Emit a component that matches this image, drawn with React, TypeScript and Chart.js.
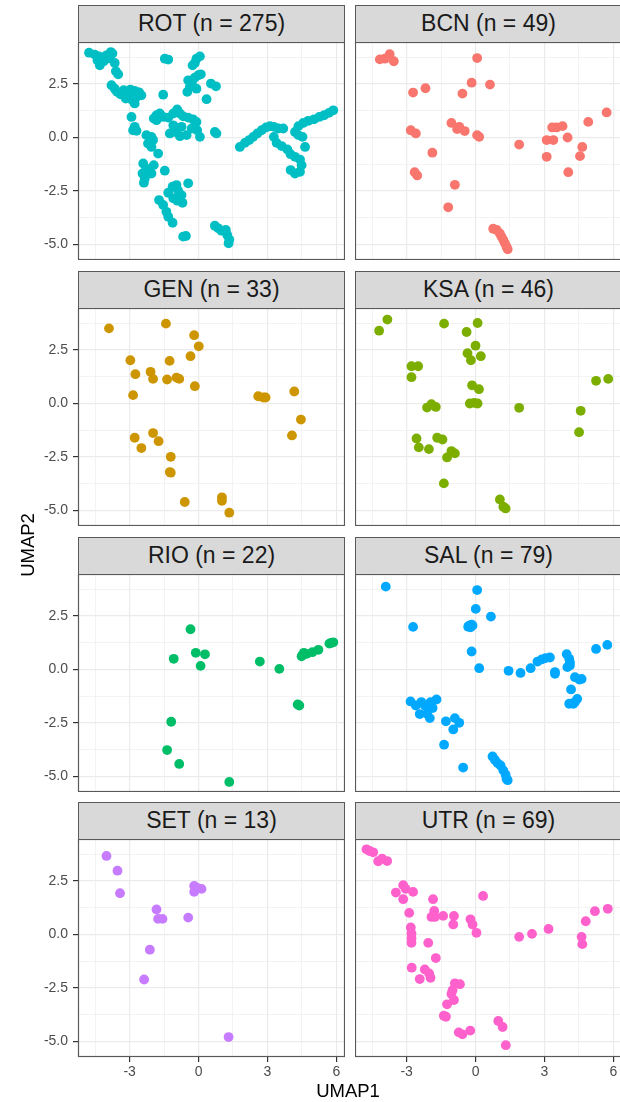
import React, { useEffect, useRef } from "react";
import { Chart, registerables } from "chart.js";

Chart.register(...registerables);

// ---------------- data (UMAP1, UMAP2) per site ----------------
const ROT: [number, number][] = [
  [-4.77, 3.96], [-4.52, 3.87], [-4.33, 3.79], [-4.16, 3.73], [-4.01, 3.84], [-3.82, 3.99], [-3.75, 3.92],
  [-4.30, 3.37], [-4.13, 3.56], [-3.65, 3.48], [-3.60, 3.09], [-3.50, 2.95], [-4.40, 3.60], [-3.90, 3.70],
  [-3.79, 2.44], [-3.65, 2.28], [-3.55, 2.13], [-3.40, 2.02], [-3.26, 2.21], [-3.14, 2.05], [-3.02, 1.90],
  [-2.88, 1.74], [-2.78, 1.59], [-2.97, 2.24], [-2.78, 2.18], [-2.59, 2.11], [-2.49, 1.97], [-2.70, 1.90],
  [-3.17, 1.82], [-2.92, 0.96], [-2.78, 0.50], [-2.70, 0.31], [-2.85, 0.34],
  [-1.54, 2.00], [-1.47, 3.68], [-1.32, 3.64], [-0.09, 3.68], [0.06, 3.79], [-0.16, 3.48], [-0.26, 3.37],
  [-0.49, 2.13], [-0.38, 2.36], [-0.28, 2.60], [-0.16, 2.80], [-0.01, 2.91], [0.10, 2.95], [-0.45, 2.67],
  [-0.09, 2.28], [0.54, 2.52], [0.76, 2.39], [0.35, 1.79],
  [-1.95, 0.89], [-1.83, 1.04], [-1.69, 1.12], [-1.54, 0.96], [-1.32, 0.93], [-1.10, 1.12], [-0.93, 1.31],
  [-0.81, 1.12], [-0.67, 0.99], [-0.45, 0.93], [-0.23, 0.84], [-0.09, 0.73], [-1.10, 0.57], [-0.96, 0.42],
  [-0.74, 0.50], [-1.25, 0.19], [-1.03, 0.26], [-0.81, 0.06], [-0.52, 0.11], [-0.30, 0.42], [-0.06, 0.34],
  [0.06, 0.03], [-1.83, 0.81], [0.71, 0.26], [0.78, 0.19],
  [-2.27, 0.11], [-2.05, 0.03], [-2.20, -0.28], [-1.98, -0.12], [-2.05, -0.44], [-1.76, -0.75],
  [-2.41, -1.21], [-2.27, -1.45], [-2.44, -1.68], [-2.34, -1.91], [-2.05, -1.68], [-1.95, -1.29],
  [-2.38, -2.11], [-1.47, -1.55],
  [-1.32, -2.58], [-1.13, -2.30], [-0.96, -2.22], [-0.89, -2.49], [-0.74, -2.69], [-1.10, -2.84],
  [-0.92, -2.95], [-0.70, -3.05], [-0.45, -2.14], [-1.72, -2.92], [-1.54, -3.15], [-1.40, -3.47],
  [-1.32, -3.70], [-1.13, -3.98], [-0.67, -4.63], [-0.55, -4.60],
  [0.71, -4.12], [0.86, -4.24], [1.00, -4.35], [1.19, -4.32], [1.25, -4.55], [1.34, -4.76], [1.31, -4.94],
  [1.80, -0.44], [2.02, -0.25], [2.21, -0.12], [2.38, 0.03], [2.56, 0.19], [2.75, 0.34], [2.94, 0.47],
  [3.11, 0.53], [3.28, 0.50], [3.47, 0.42], [3.69, 0.42],
  [3.28, 0.03], [3.40, -0.25], [3.62, -0.40], [3.87, -0.56], [4.01, -0.78], [4.20, -0.90], [4.42, -1.03],
  [4.49, -1.29], [4.01, -1.52], [4.20, -1.68], [4.42, -1.60], [4.64, -0.44],
  [4.20, 0.26], [4.35, 0.53], [4.56, 0.68], [4.78, 0.78], [5.03, 0.85], [5.26, 0.96], [5.47, 1.04],
  [5.68, 1.15], [5.87, 1.27], [4.35, 0.11], [4.53, 0.03],
];

const BCN: [number, number][] = [
  [-4.17, 3.65], [-3.95, 3.68], [-3.74, 3.89], [-3.56, 3.56], [0.07, 3.71], [-2.72, 2.10], [-2.18, 2.30],
  [-0.57, 2.05], [-0.17, 2.56], [0.63, 2.47], [-2.82, 0.34], [-2.60, 0.19], [-1.05, 0.68], [-0.80, 0.39],
  [-0.71, 0.50], [-0.47, 0.30], [0.07, 0.11], [0.16, 0.03], [-1.88, -0.71], [-2.65, -1.62], [-2.54, -1.77],
  [-0.90, -2.21], [-1.19, -3.26], [0.77, -4.26], [0.92, -4.32], [1.06, -4.48], [1.13, -4.63], [1.21, -4.79],
  [1.28, -4.94], [1.35, -5.10], [1.40, -5.22], [1.90, -0.33], [3.10, -0.12], [3.39, -0.12], [3.34, 0.47],
  [3.53, 0.47], [3.79, 0.53], [4.01, 0.0], [3.10, -0.90], [4.04, -1.62], [4.55, -0.87], [4.65, -0.44],
  [4.91, 0.73], [5.71, 1.17],
];

const GEN: [number, number][] = [
  [-3.90, 3.51], [-1.42, 3.73], [-0.19, 3.19], [0.01, 2.67], [-0.35, 2.21], [-2.97, 2.02], [-1.26, 1.99],
  [-2.75, 1.37], [-2.09, 1.48], [-1.98, 1.15], [-1.37, 1.12], [-0.96, 1.21], [-0.84, 1.15], [-0.16, 0.81],
  [-2.85, 0.39], [2.60, 0.34], [2.82, 0.28], [2.92, 0.28], [4.17, 0.56], [4.46, -0.75], [4.07, -1.49],
  [-2.78, -1.60], [-1.98, -1.38], [-1.74, -1.76], [-2.49, -2.08], [-1.21, -2.49], [-1.25, -3.20],
  [-1.21, -3.23], [-0.60, -4.60], [1.02, -4.38], [1.02, -4.54], [1.34, -5.10],
];

const KSA: [number, number][] = [
  [-3.84, 3.92], [-4.20, 3.40], [-1.37, 3.73], [0.09, 3.76], [-0.39, 3.34], [0.0, 2.70], [-0.35, 2.35],
  [0.23, 2.21], [-0.20, 2.02], [-2.79, 1.74], [-2.50, 1.74], [-2.79, 1.23], [-0.15, 0.85], [0.15, 0.67],
  [-0.25, 0.0], [-0.06, 0.03], [0.09, 0.0], [-2.11, -0.19], [-1.92, -0.03], [-1.73, -0.16], [1.90, -0.20],
  [5.25, 1.06], [5.78, 1.15], [4.58, -0.34], [4.51, -1.34], [-2.57, -1.63], [-2.47, -2.05], [-2.03, -2.13],
  [-1.67, -1.60], [-1.44, -1.68], [-1.24, -2.52], [-1.05, -2.22], [-0.90, -2.33], [-1.38, -3.73],
  [1.06, -4.48], [1.31, -4.90], [1.21, -4.82],
];

const RIO: [number, number][] = [
  [-0.35, 1.88], [-1.08, 0.50], [-0.12, 0.78], [0.28, 0.71], [0.09, 0.17], [2.67, 0.37], [3.52, 0.03],
  [4.53, 0.68], [4.59, 0.78], [4.71, 0.73], [4.96, 0.81], [5.22, 0.92], [5.70, 1.21], [5.87, 1.27],
  [5.77, 1.24], [4.49, 0.62], [4.32, -1.63], [4.39, -1.68], [-1.19, -2.44], [-1.37, -3.76], [-0.84, -4.41],
  [1.34, -5.25],
];

const SAL: [number, number][] = [
  [-3.91, 3.87], [-2.72, 1.99], [0.07, 3.71], [0.01, 2.83], [0.67, 2.47], [-0.28, 2.05], [-0.17, 2.10],
  [-0.22, 1.97], [-0.32, 2.00], [-0.13, 2.05], [-0.17, 0.84], [0.16, 0.06], [1.44, -0.06], [1.96, -0.16],
  [2.40, 0.06], [2.70, 0.37], [2.88, 0.47], [3.05, 0.53], [3.24, 0.56], [3.46, -0.12], [3.46, -0.20],
  [3.97, 0.72], [4.08, 0.50], [4.11, 0.34], [4.00, 0.11], [4.11, 0.19], [4.33, -0.36], [4.52, -0.47],
  [4.62, -0.44], [4.16, -0.93], [4.08, -1.60], [4.26, -1.60], [4.43, -1.37], [4.33, -1.52], [5.25, 0.96],
  [5.74, 1.15], [-2.83, -1.49], [-2.60, -1.68], [-2.43, -2.08], [-2.21, -1.68], [-2.11, -2.07],
  [-1.99, -2.27], [-1.96, -1.53], [-1.87, -1.80], [-1.70, -1.40], [-2.36, -1.52], [-1.29, -2.42],
  [-0.90, -2.27], [-0.71, -2.49], [-0.97, -2.80], [-1.37, -3.51], [-0.54, -4.58], [0.74, -4.06],
  [0.84, -4.21], [0.96, -4.37], [1.09, -4.48], [1.21, -4.71], [1.31, -4.91], [1.35, -5.10], [1.40, -5.17],
];

const SET: [number, number][] = [
  [-4.01, 3.67], [-3.53, 2.98], [-3.42, 1.93], [-0.19, 2.27], [-0.19, 1.99], [-0.06, 2.18], [0.13, 2.13],
  [-1.83, 1.17], [-1.76, 0.73], [-1.57, 0.73], [-0.45, 0.79], [-2.12, -0.71], [-2.37, -2.10], [1.31, -4.79],
];

const UTR: [number, number][] = [
  [-4.75, 3.98], [-4.61, 3.90], [-4.46, 3.84], [-4.24, 3.42], [-4.07, 3.54], [-3.85, 3.43], [-3.47, 1.96],
  [-3.15, 2.30], [-3.04, 2.13], [-2.72, 1.99], [-3.15, 1.65], [-1.85, 1.65], [0.33, 1.80], [-2.89, 1.01],
  [-1.80, 1.10], [-1.92, 0.82], [-1.77, 0.82], [-1.41, 0.87], [-0.94, 0.87], [-0.97, 0.47], [-0.22, 0.71],
  [-0.13, 0.47], [0.04, 0.08], [-2.82, 0.33], [-2.79, 0.05], [-2.79, -0.19], [-2.79, -0.39], [-2.06, -0.39],
  [-1.73, -1.10], [-2.78, -1.55], [-2.21, -1.63], [-2.02, -1.82], [-1.96, -2.02], [-2.43, -2.08],
  [-0.90, -2.28], [-0.68, -2.32], [-1.00, -2.60], [-1.05, -2.78], [-0.94, -3.06], [-1.24, -3.26],
  [-1.38, -3.79], [-1.29, -3.84], [-0.73, -4.57], [-0.57, -4.66], [-0.23, -4.49], [0.99, -4.04],
  [1.18, -4.32], [1.32, -5.17], [1.90, -0.11], [2.46, 0.03], [3.18, 0.26], [4.62, -0.11], [4.65, -0.45],
  [4.80, 0.62], [5.20, 1.09], [5.76, 1.20],
];

const sites = ["ROT", "BCN", "GEN", "KSA", "RIO", "SAL", "SET", "UTR"];
const counts = [275, 49, 33, 46, 22, 79, 13, 69];
const colors = ["#00BFC4", "#F8766D", "#CD9600", "#7CAE00", "#00BE67", "#00A9FF", "#C77CFF", "#FF61CC"];
const sitePoints = [ROT, BCN, GEN, KSA, RIO, SAL, SET, UTR];

// axis ticks
const xMajor = [-3, 0, 3, 6];
const xMinor = [-4.5, -1.5, 1.5, 4.5];
const yMajor = [-5, -2.5, 0, 2.5];
const yMinor = [-3.75, -1.25, 1.25, 3.75];
const xLimits = [-5.25, 6.38];
const yLimits = [-5.72, 4.46];

// ---------------- layout ----------------
const COL_LEFT = [78, 355];
const PANEL_W = 267;
const PANEL_H = 218;
const ROW_TOP = [42, 308, 574, 839];
const STRIP_H = 37;
const Y_AXIS_W = 78;
const X_AXIS_H = 32;
const FONT = '"Liberation Sans", Arial, Helvetica, sans-serif';
const BORDER = "#595959";

const isMajor = (v: number, majors: number[]) => majors.some((m) => Math.abs(m - v) < 1e-9);

const borderPlugin = {
  id: "panelBorder",
  afterDraw(chart: any) {
    const { ctx, chartArea: a } = chart;
    ctx.save();
    ctx.strokeStyle = BORDER;
    ctx.lineWidth = 1.2;
    ctx.strokeRect(a.left + 0.5, a.top + 0.5, a.right - a.left - 1, a.bottom - a.top - 1);
    ctx.restore();
  },
};

function fixSize(size: number, horizontal: boolean) {
  return (scale: any) => {
    if (horizontal) scale.height = size;
    else scale.width = size;
    scale.paddingTop = 0;
    scale.paddingBottom = 0;
    scale.paddingLeft = 0;
    scale.paddingRight = 0;
  };
}

function Panel({ index }: { index: number }) {
  const ref = useRef<HTMLCanvasElement | null>(null);
  const col = index % 2;
  const row = Math.floor(index / 2);
  const showY = col === 0;
  const showX = row === 3;
  const canvasLeft = showY ? COL_LEFT[0] - Y_AXIS_W : COL_LEFT[1];
  const width = PANEL_W + (showY ? Y_AXIS_W : 0);
  const height = PANEL_H + (showX ? X_AXIS_H : 0);

  useEffect(() => {
    if (!ref.current) return;
    const tickFont = { family: FONT, size: 14 };
    const chart = new Chart(ref.current, {
      type: "scatter",
      data: {
        datasets: [
          {
            data: sitePoints[index].map(([x, y]) => ({ x, y })),
            backgroundColor: colors[index],
            borderWidth: 0,
            pointRadius: 4.9,
            pointHoverRadius: 4.9,
          },
        ],
      },
      options: {
        animation: false,
        responsive: false,
        events: [],
        layout: { padding: 0, autoPadding: false },
        plugins: { legend: { display: false }, tooltip: { enabled: false } },
        scales: {
          x: {
            type: "linear",
            min: xLimits[0],
            max: xLimits[1],
            afterBuildTicks: (s: any) => {
              s.ticks = [...xMinor, ...xMajor].sort((a, b) => a - b).map((value) => ({ value }));
            },
            afterFit: fixSize(showX ? X_AXIS_H : 0, true),
            ticks: {
              display: showX,
              autoSkip: false,
              maxRotation: 0,
              padding: 2,
              color: "#4D4D4D",
              font: tickFont,
              callback: (v: any) => (isMajor(Number(v), xMajor) ? String(v) : ""),
            },
            grid: {
              color: "#EBEBEB",
              lineWidth: (c: any) => (c.tick && isMajor(c.tick.value, xMajor) ? 1.2 : 0.6),
              drawTicks: showX,
              tickLength: 5,
              tickWidth: 1.2,
              tickColor: (c: any) => (c.tick && isMajor(c.tick.value, xMajor) ? "#333333" : "rgba(0,0,0,0)"),
            },
            border: { display: false },
          },
          y: {
            type: "linear",
            min: yLimits[0],
            max: yLimits[1],
            afterBuildTicks: (s: any) => {
              s.ticks = [...yMinor, ...yMajor].sort((a, b) => a - b).map((value) => ({ value }));
            },
            afterFit: fixSize(showY ? Y_AXIS_W : 0, false),
            ticks: {
              display: showY,
              autoSkip: false,
              padding: 5,
              color: "#4D4D4D",
              font: tickFont,
              callback: (v: any) => (isMajor(Number(v), yMajor) ? Number(v).toFixed(1) : ""),
            },
            grid: {
              color: "#EBEBEB",
              lineWidth: (c: any) => (c.tick && isMajor(c.tick.value, yMajor) ? 1.2 : 0.6),
              drawTicks: showY,
              tickLength: 5,
              tickWidth: 1.2,
              tickColor: (c: any) => (c.tick && isMajor(c.tick.value, yMajor) ? "#333333" : "rgba(0,0,0,0)"),
            },
            border: { display: false },
          },
        },
      },
      plugins: [borderPlugin],
    } as any);
    return () => chart.destroy();
  }, [index]);

  return (
    <>
      <div
        style={{
          position: "absolute",
          left: COL_LEFT[col],
          top: ROW_TOP[row] - STRIP_H,
          width: PANEL_W,
          height: STRIP_H + 1,
          boxSizing: "border-box",
          border: `1.2px solid ${BORDER}`,
          background: "#D9D9D9",
          color: "#1A1A1A",
          fontFamily: FONT,
          fontSize: 23,
          lineHeight: `${STRIP_H - 2}px`,
          textAlign: "center",
          whiteSpace: "nowrap",
        }}
      >
        {`${sites[index]} (n = ${counts[index]})`}
      </div>
      <canvas
        ref={ref}
        width={width}
        height={height}
        style={{ position: "absolute", left: canvasLeft, top: ROW_TOP[row], width, height }}
      />
    </>
  );
}

export default function App() {
  return (
    <div
      style={{
        position: "absolute",
        left: 0,
        top: 0,
        width: 620,
        height: 1102,
        overflow: "hidden",
        background: "#FFFFFF",
        fontFamily: FONT,
      }}
    >
      {sites.map((s, i) => (
        <Panel key={s} index={i} />
      ))}
      <div
        style={{
          position: "absolute",
          left: 348 - 60,
          top: 1080,
          width: 120,
          textAlign: "center",
          fontSize: 18.5,
          color: "#000000",
          lineHeight: "22px",
        }}
      >
        UMAP1
      </div>
      <div
        style={{
          position: "absolute",
          left: 28 - 60,
          top: 545 - 11,
          width: 120,
          height: 22,
          textAlign: "center",
          fontSize: 18.5,
          color: "#000000",
          lineHeight: "22px",
          transform: "rotate(-90deg)",
          transformOrigin: "50% 50%",
        }}
      >
        UMAP2
      </div>
    </div>
  );
}
